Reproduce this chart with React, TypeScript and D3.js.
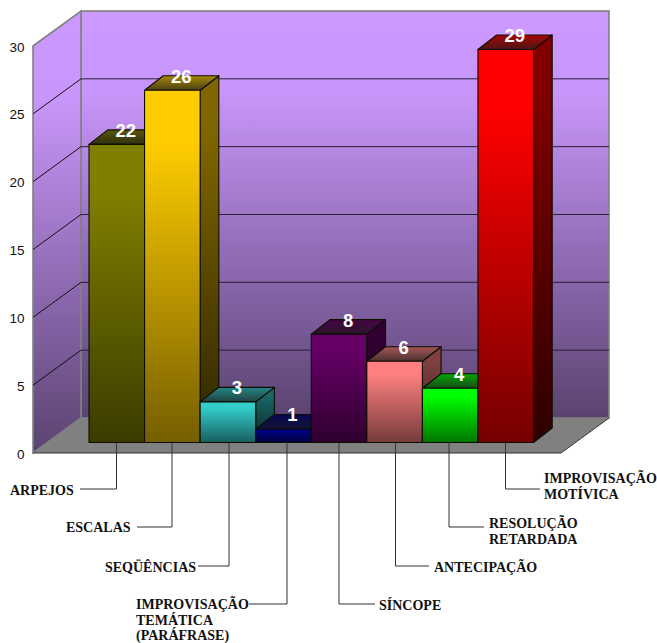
import React from "react";
import * as d3 from "d3";

const categories = ["ARPEJOS", "ESCALAS", "SEQÜÊNCIAS", "IMPROVISAÇÃO TEMÁTICA", "SÍNCOPE", "ANTECIPAÇÃO", "RESOLUÇÃO", "IMPROVISAÇÃO MOTÍVICA"];
const values = [22, 26, 3, 1, 8, 6, 4, 29];
const colors = ["#808000", "#ffcc00", "#33cccc", "#000080", "#660066", "#ff8080", "#00ff00", "#ff0000"];
const labelLines = [["ARPEJOS"], ["ESCALAS"], ["SEQÜÊNCIAS"], ["IMPROVISAÇÃO", "TEMÁTICA", "(PARÁFRASE)"], ["SÍNCOPE"], ["ANTECIPAÇÃO"], ["RESOLUÇÃO", "RETARDADA"], ["IMPROVISAÇÃO", "MOTÍVICA"]];
const leaderY = [489, 527, 566, 604, 604, 566, 527, 489];
const leaderX = [116.5, 172, 229, 287, 339, 395.5, 449, 505.5];
const leaderEnd = [80, 137, 198, 249, 375, 429, 484, 540];
const textX = [10, 66, 105, 136, 379, 434, 489, 544];
const textAnchorY = [495, 532, 572, 609, 610, 572, 528, 483];
const ticks = [0, 5, 10, 15, 20, 25, 30];

const FLOOR_X0 = 33, FLOOR_X1 = 561, Y0 = 453, Y30 = 46, DX = 48, DY = -35;
const y = d3.scaleLinear().domain([0, 30]).range([Y0, Y30]);
const BAR_BASE = 442.5, BAR_D_X = 18.7, BAR_D_Y = -14.5;
const barH = d3.scaleLinear().domain([0, 30]).range([0, 406.5]);
const x = d3.scaleBand<number>().domain(d3.range(8)).range([89, 533.5]).padding(0);

const dk = (c: string, k: number) => {
  const r = d3.rgb(c);
  return d3.rgb(r.r * k, r.g * k, r.b * k).formatHex();
};
const mix = (c: string, k: number, g: number, a: number) => {
  const r = d3.rgb(c);
  return d3.rgb(r.r * k * (1 - a) + g * a, r.g * k * (1 - a) + g * a, r.b * k * (1 - a) + g * a).formatHex();
};
const poly = (pts: number[][]) => d3.line()(pts as [number, number][]) + "Z";
const barEdge = "#0d0d00";

export default function App() {
  const bw = x.bandwidth();
  return (
    <svg width={657} height={643} style={{ position: "absolute", left: 0, top: 0, background: "#fff" }}>
      <defs>
        <linearGradient id="wall" x1="0" y1="0" x2="0" y2="1">
          <stop offset="0" stopColor="#cc99ff" />
          <stop offset="0.2" stopColor="#c896fa" />
          <stop offset="1" stopColor="#5a4370" />
        </linearGradient>
        {colors.map((c, i) => (
          <React.Fragment key={i}>
            <linearGradient id={`f${i}`} x1="0" y1="0" x2="0" y2="1">
              <stop offset="0" stopColor={c} />
              <stop offset="0.15" stopColor={c} />
              <stop offset="1" stopColor={dk(c, 0.46)} />
            </linearGradient>
            <linearGradient id={`s${i}`} x1="0" y1="0" x2="0" y2="1">
              <stop offset="0" stopColor={dk(c, 0.5)} />
              <stop offset="0.15" stopColor={dk(c, 0.5)} />
              <stop offset="1" stopColor={dk(c, 0.18)} />
            </linearGradient>
            <linearGradient id={`t${i}`} x1="0" y1="0" x2="0" y2="1">
              <stop offset="0" stopColor={mix(c, 0.7, 60, 0.1)} />
              <stop offset="1" stopColor={mix(c, 0.3, 70, 0.3)} />
            </linearGradient>
          </React.Fragment>
        ))}
      </defs>

      {/* back wall */}
      <rect x={FLOOR_X0 + DX} y={Y30 + DY} width={FLOOR_X1 - FLOOR_X0} height={Y0 - Y30} fill="url(#wall)" stroke="#808080" strokeWidth={1.6} />
      {/* left wall */}
      <path d={poly([[FLOOR_X0, Y30], [FLOOR_X0 + DX, Y30 + DY], [FLOOR_X0 + DX, Y0 + DY], [FLOOR_X0, Y0]])} fill="url(#wall)" stroke="#808080" strokeWidth={1.6} />
      {/* floor */}
      <path d={poly([[FLOOR_X0, Y0], [FLOOR_X1, Y0], [FLOOR_X1 + DX, Y0 + DY], [FLOOR_X0 + DX, Y0 + DY]])} fill="#808080" />
      <line x1={FLOOR_X0} x2={FLOOR_X1} y1={Y0} y2={Y0} stroke="#333" strokeWidth={1} />
      <line x1={FLOOR_X1} x2={FLOOR_X1 + DX} y1={Y0} y2={Y0 + DY} stroke="#333" strokeWidth={1} />

      {/* gridlines */}
      {ticks.slice(1, -1).map((t) => (
        <g key={t} fill="none">
          <line x1={FLOOR_X0} y1={y(t)} x2={FLOOR_X0 + DX} y2={y(t) + DY} stroke="#111" strokeWidth={1} />
          <line x1={FLOOR_X0 + DX} y1={y(t) + DY} x2={FLOOR_X1 + DX} y2={y(t) + DY} stroke="#2a1f38" strokeWidth={1} />
        </g>
      ))}

      {/* tick labels */}
      {ticks.map((t) => (
        <text key={t} x={24.5} y={y(t) + 5.5} textAnchor="end" fontFamily="Liberation Sans" fontSize={13.5} fill="#111">{t}</text>
      ))}

      {/* bars */}
      {values.map((v, i) => {
        const x0 = x(i)!;
        const x1 = x0 + bw;
        const top = BAR_BASE - barH(v);
        return (
          <g key={i} stroke={barEdge} strokeWidth={1.1} strokeLinejoin="round">
            <path d={poly([[x1, top], [x1 + BAR_D_X, top + BAR_D_Y], [x1 + BAR_D_X, BAR_BASE + BAR_D_Y], [x1, BAR_BASE]])} fill={`url(#s${i})`} />
            <path d={poly([[x0, top], [x0 + BAR_D_X, top + BAR_D_Y], [x1 + BAR_D_X, top + BAR_D_Y], [x1, top]])} fill={`url(#t${i})`} />
            <rect x={x0} y={top} width={bw} height={barH(v)} fill={`url(#f${i})`} />
          </g>
        );
      })}

      {/* value labels */}
      {values.map((v, i) => (
        <text key={i} x={x(i)! + bw / 2 + 9} y={BAR_BASE - barH(v) - 7.5} textAnchor="middle" fontFamily="Liberation Sans" fontWeight="bold" fontSize={18.5} fill="#fff">{v}</text>
      ))}

      {/* leaders */}
      {categories.map((c, i) => (
        <path key={c} d={`M${leaderX[i]},${BAR_BASE}V${leaderY[i]}H${leaderEnd[i]}`} fill="none" stroke="#333" strokeWidth={1} />
      ))}

      {/* category labels */}
      {labelLines.map((lines, i) => (
        <text key={i} fontFamily="Liberation Serif" fontWeight="bold" fontSize={14} fill="#111">
          {lines.map((l, j) => (
            <tspan key={j} x={textX[i]} y={textAnchorY[i] + j * 15.5}>{l}</tspan>
          ))}
        </text>
      ))}
    </svg>
  );
}
